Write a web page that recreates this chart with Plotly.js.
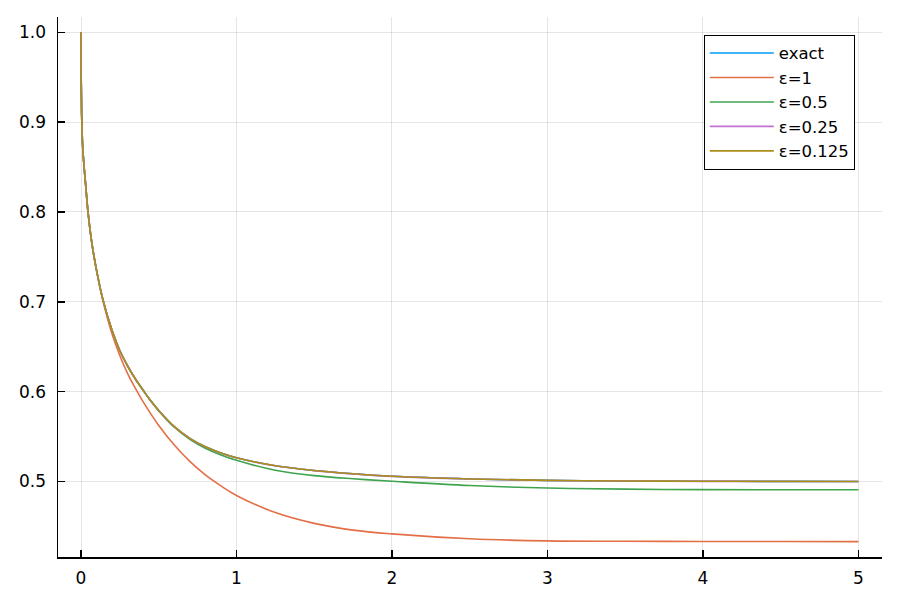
<!DOCTYPE html>
<html>
<head>
<meta charset="utf-8">
<script src="https://cdn.plot.ly/plotly-3.0.1.min.js"></script>
<style>
html,body{margin:0;padding:0;background:#fff;}
#chart{width:900px;height:600px;}
</style>
</head>
<body>
<div id="chart"></div>
<script>
// time samples
var t = [0, 0.001, 0.004, 0.01, 0.02, 0.03, 0.045, 0.07, 0.1, 0.14, 0.2, 0.25, 0.3, 0.35, 0.4, 0.45, 0.5, 0.6, 0.7, 0.8, 0.9, 1.0, 1.25, 1.5, 1.75, 2.0, 2.5, 3.0, 3.5, 4.0, 4.5, 5.0];

var exactVals = [1.0, 0.95, 0.91, 0.875, 0.85, 0.83, 0.80, 0.765, 0.735, 0.703, 0.668, 0.6455, 0.6285, 0.614, 0.6015, 0.5895, 0.579, 0.561, 0.548, 0.5386, 0.5318, 0.5264, 0.5175, 0.5122, 0.5085, 0.5058, 0.5028, 0.5012, 0.5005, 0.5002, 0.5001, 0.5000];

var eps1Vals = [1.0, 0.95, 0.91, 0.875, 0.85, 0.83, 0.80, 0.765, 0.735, 0.702, 0.664, 0.640, 0.620, 0.6035, 0.5885, 0.575, 0.5623, 0.5405, 0.5223, 0.5072, 0.495, 0.4844, 0.4653, 0.4533, 0.4458, 0.4416, 0.4362, 0.4338, 0.4334, 0.4332, 0.4331, 0.4330];

var eps05Vals = [1.0, 0.95, 0.91, 0.875, 0.85, 0.83, 0.80, 0.765, 0.735, 0.703, 0.668, 0.6455, 0.6285, 0.6138, 0.6013, 0.5892, 0.5785, 0.5603, 0.547, 0.537, 0.5295, 0.5235, 0.5125, 0.5065, 0.5030, 0.5003, 0.4955, 0.4927, 0.4914, 0.4909, 0.4907, 0.4907];

var eps025Vals = [1.0, 0.95, 0.91, 0.875, 0.85, 0.83, 0.80, 0.765, 0.735, 0.703, 0.668, 0.6455, 0.6285, 0.614, 0.6015, 0.5895, 0.579, 0.561, 0.548, 0.5385, 0.5317, 0.5263, 0.5174, 0.5121, 0.5084, 0.5057, 0.5027, 0.5011, 0.5004, 0.5001, 0.5000, 0.4999];

var eps0125Vals = [1.0, 0.95, 0.91, 0.875, 0.85, 0.83, 0.80, 0.765, 0.735, 0.703, 0.668, 0.6455, 0.6285, 0.614, 0.6015, 0.5895, 0.579, 0.561, 0.548, 0.5386, 0.5318, 0.5264, 0.5175, 0.5122, 0.5085, 0.5058, 0.5028, 0.5012, 0.5005, 0.5002, 0.5001, 0.5000];

var seriesNames = ["exact", "ε=1", "ε=0.5", "ε=0.25", "ε=0.125"];
var seriesVals = [exactVals, eps1Vals, eps05Vals, eps025Vals, eps0125Vals];
var colors = ["#009AFA", "#E36F47", "#3EA44E", "#C371D2", "#AC8E18"];

var xTicks = [0, 1, 2, 3, 4, 5];
var yTicks = [0.5, 0.6, 0.7, 0.8, 0.9, 1.0];

var traces = seriesVals.map(function(v, i){
  return {
    x: t, y: v, type: 'scatter', mode: 'lines', name: seriesNames[i],
    line: {color: colors[i], width: 1.6, shape: 'spline', smoothing: 1}
  };
});

var tickFont = {family: 'DejaVu Sans, sans-serif', size: 17, color: '#000'};
var legFont = {family: 'DejaVu Sans, sans-serif', size: 16.5, color: '#000'};

var layout = {
  width: 900, height: 600,
  margin: {l: 58, r: 18, t: 17, b: 43, pad: 0},
  paper_bgcolor: '#fff', plot_bgcolor: '#fff',
  font: tickFont,
  showlegend: true,
  legend: {
    x: 0.967, y: 0.967, xanchor: 'right', yanchor: 'top',
    bgcolor: '#fff', bordercolor: '#000', borderwidth: 1,
    font: legFont, itemwidth: 64, tracegroupgap: 0
  },
  xaxis: {
    range: [-0.148, 5.152], tickvals: xTicks, ticktext: xTicks.map(String),
    showgrid: true, gridcolor: 'rgba(0,0,0,0.1)', gridwidth: 1,
    zeroline: false, showline: true, linecolor: '#000', linewidth: 1.5,
    ticks: 'inside', ticklen: 7, tickwidth: 1.5, tickcolor: '#000',
    tickfont: tickFont, ticklabelstandoff: 5
  },
  yaxis: {
    range: [0.4159, 1.017], tickvals: yTicks, ticktext: yTicks.map(function(v){return v.toFixed(1);}),
    showgrid: true, gridcolor: 'rgba(0,0,0,0.1)', gridwidth: 1,
    zeroline: false, showline: true, linecolor: '#000', linewidth: 1.5,
    ticks: 'inside', ticklen: 7, tickwidth: 1.5, tickcolor: '#000',
    tickfont: tickFont, ticklabelstandoff: 7
  }
};

Plotly.newPlot('chart', traces, layout, {displayModeBar: false, staticPlot: true});
</script>
</body>
</html>
